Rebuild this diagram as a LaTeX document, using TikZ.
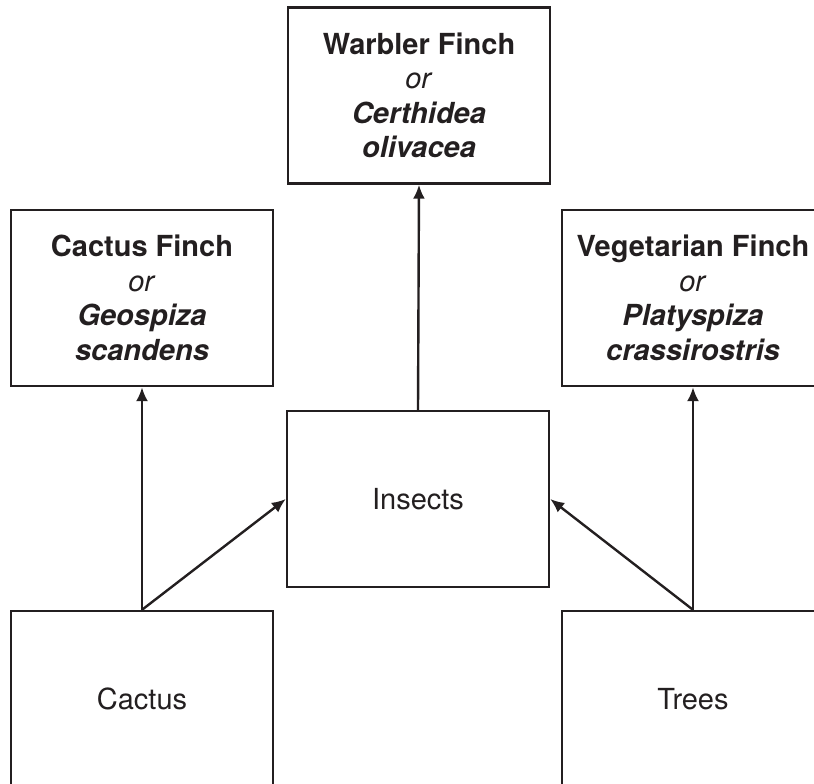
\documentclass[tikz,border=0pt]{standalone}
\usepackage{fontspec}
\setmainfont{TeX Gyre Heros}
\usetikzlibrary{arrows.meta}
\definecolor{ink}{RGB}{35,31,32}
\begin{document}
\begin{tikzpicture}[
    x=1pt, y=-1pt,
    box/.style={rectangle, draw=ink, line width=2.4pt, text=ink,
                minimum width=262pt, minimum height=176pt, inner sep=0pt,
                align=center, font=\fontsize{29}{34.5}\selectfont},
    link/.style={-{Latex[length=14pt,width=12pt]}, line width=2.4pt, draw=ink}
]
    \useasboundingbox (0,0) rectangle (814,784);
    \clip (0,0) rectangle (814,784);

    % Finches
    \node[box] (warbler) at (419, 95.5)
        {\textbf{Warbler Finch}\\\textit{or}\\\textbf{\textit{Certhidea}}\\\textbf{\textit{olivacea}}};
    \node[box] (cfinch) at (142, 298)
        {\textbf{Cactus Finch}\\\textit{or}\\\textbf{\textit{Geospiza}}\\\textbf{\textit{scandens}}};
    \node[box] (vfinch) at (693, 298)
        {\textbf{Vegetarian Finch}\\\textit{or}\\\textbf{\textit{Platyspiza}}\\\textbf{\textit{crassirostris}}};

    % Food sources
    \node[box] (insects) at (418, 499) {Insects};
    \node[box] (cactus)  at (142, 699) {Cactus};
    \node[box] (trees)   at (693, 699) {Trees};

    % Who eats what
    \draw[link] (cactus.north)  -- (cfinch.south);
    \draw[link] (cactus.north)  -- (insects.west);
    \draw[link] (trees.north)   -- (vfinch.south);
    \draw[link] (trees.north)   -- (insects.east);
    \draw[link] (insects.north) -- (warbler.south);

\end{tikzpicture}
\end{document}
